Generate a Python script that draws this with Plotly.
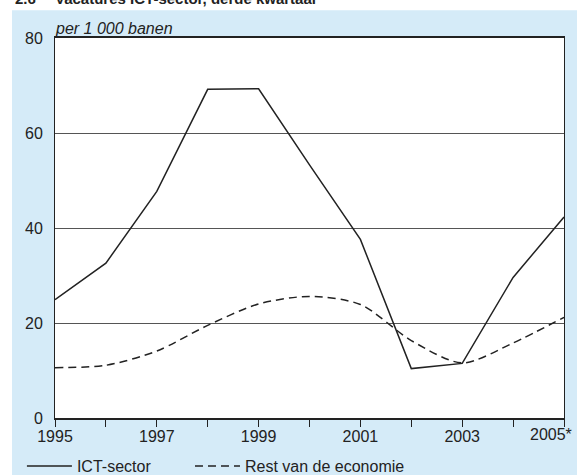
import plotly.graph_objects as go

years = [1995, 1996, 1997, 1998, 1999, 2000, 2001, 2002, 2003, 2004, 2005]
ict_sector = [24.9, 32.6, 47.7, 69.2, 69.3, 53.3, 37.6, 10.4, 11.5, 29.6, 42.3]
rest_economie = [10.6, 11.1, 14.1, 19.5, 24.0, 25.6, 23.9, 16.3, 11.6, 15.8, 21.2]
x_tick_labels = ["1995", "", "1997", "", "1999", "", "2001", "", "2003", "", ""]
last_label = "2005*"
y_ticks = [0, 20, 40, 60, 80]
series_names = ["ICT-sector", "Rest van de economie"]
unit_label = "per 1 000 banen"
title_num = "2.6"
title_text = "Vacatures ICT-sector, derde kwartaal"

FONT = "Liberation Sans, Arial, sans-serif"
INK = "#222222"

fig = go.Figure()
fig.add_trace(go.Scatter(x=years, y=ict_sector, mode="lines", name=series_names[0], legend="legend",
                         line=dict(color=INK, width=1.5)))
fig.add_trace(go.Scatter(x=years, y=rest_economie, mode="lines", name=series_names[1], legend="legend2",
                         line=dict(color=INK, width=1.5, dash="8px,5px", shape="spline", smoothing=0.8)))

# blue panel + white plot area
fig.add_shape(type="rect", xref="paper", yref="paper", x0=-0.0845, x1=1.05, y0=-0.2, y1=1.073,
              fillcolor="#d5ebf8", line_width=0, layer="below")
fig.add_shape(type="rect", xref="paper", yref="paper", x0=0, x1=1, y0=0, y1=1,
              fillcolor="white", line_width=0, layer="below")

fig.add_annotation(text=unit_label, xref="paper", yref="paper", x=0, y=1, xanchor="left", yanchor="bottom",
                   showarrow=False, font=dict(family=FONT, size=16, color=INK, style="italic"), xshift=-2, yshift=-1)
fig.add_annotation(text="<b>" + title_num + "</b>", xref="paper", yref="paper", x=-0.0825, y=1, xanchor="left",
                   yanchor="bottom", showarrow=False, font=dict(family=FONT, size=15, color=INK), yshift=29)
fig.add_annotation(text="<b>" + title_text + "</b>", xref="paper", yref="paper", x=-0.004, y=1, xanchor="left",
                   yanchor="bottom", showarrow=False, font=dict(family=FONT, size=15, color=INK), yshift=29)
fig.add_annotation(text=last_label, x=years[-1], xref="x", yref="paper", y=0, xanchor="right", yanchor="top",
                   showarrow=False, font=dict(family=FONT, size=16, color=INK), xshift=10, yshift=-6)

fig.update_xaxes(range=[years[0], years[-1]], tickvals=years, ticktext=x_tick_labels,
                 ticks="outside", ticklen=7, tickcolor=INK, tickwidth=1, ticklabelstandoff=-4,
                 showgrid=False, zeroline=False, showline=True, linecolor=INK, linewidth=1.5, mirror=True,
                 tickfont=dict(family=FONT, size=16, color=INK), automargin=False)
fig.update_yaxes(range=[0, 80], tickvals=y_ticks, ticks="", ticklabelstandoff=8,
                 showgrid=True, gridcolor="#555555", gridwidth=1, zeroline=False,
                 showline=True, linecolor=INK, linewidth=1, mirror=True,
                 tickfont=dict(family=FONT, size=16, color=INK), automargin=False)

legend_style = dict(orientation="h", xanchor="left", yanchor="bottom", y=-0.171,
                    bgcolor="rgba(0,0,0,0)", itemwidth=45, borderwidth=0,
                    font=dict(family=FONT, size=16, color=INK))

fig.update_layout(
    width=577, height=475,
    margin=dict(l=55, r=13, t=38, b=57, pad=0, autoexpand=False),
    paper_bgcolor="white", plot_bgcolor="white",
    font=dict(family=FONT, size=16, color=INK),
    showlegend=True,
    legend=dict(x=-0.065, **legend_style),
    legend2=dict(x=0.2652, **legend_style),
)

fig.write_html("out.html", config={"displayModeBar": False},
               post_script="document.body.style.margin='0';document.body.style.overflow='hidden';")
